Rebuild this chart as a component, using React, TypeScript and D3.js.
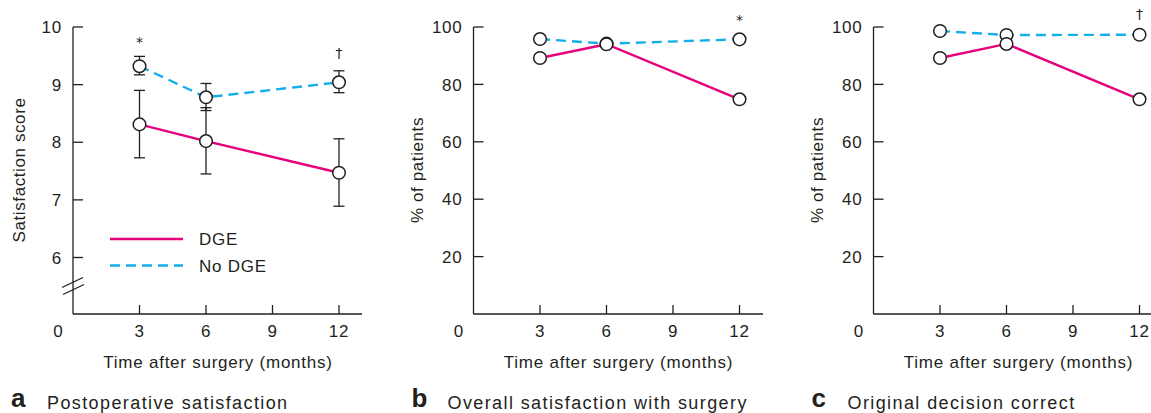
import React from "react";
import * as d3 from "d3";

const months = [3, 6, 12];
const xTicks = [3, 6, 9, 12];

// Panel a: satisfaction score (mean with error bars)
const aDGE = [8.31, 8.02, 7.47];
const aDGEUpper = [8.9, 8.6, 8.06];
const aDGELower = [7.73, 7.45, 6.89];
const aNoDGE = [9.32, 8.78, 9.04];
const aNoDGEUpper = [9.49, 9.02, 9.24];
const aNoDGELower = [9.17, 8.55, 8.86];
const aYTicks = [6, 7, 8, 9, 10];

// Panel b: overall satisfaction with surgery (% of patients)
const bDGE = [89.2, 94.0, 74.8];
const bNoDGE = [95.8, 94.2, 95.7];

// Panel c: original decision correct (% of patients)
const cDGE = [89.2, 94.1, 74.8];
const cNoDGE = [98.6, 97.2, 97.3];

const pctTicks = [20, 40, 60, 80, 100];

const PINK = "#e6007e";
const CYAN = "#14aee8";
const INK = "#231f20";
const FONT = "'Liberation Sans', Arial, Helvetica, sans-serif";
const AX_FS = 17;
const AX_LS = 0.75;
const DASH = "10 6";

type Panel = {
  axisX: number;
  axisEnd: number;
  letter: string;
  caption: string;
  yTitle: string;
  yTitleX: number;
  yDomain: [number, number];
  yRange: [number, number];
  yTicks: number[];
  dge: number[];
  noDge: number[];
  dgeErr?: [number[], number[]];
  noDgeErr?: [number[], number[]];
  marks: { label: string; month: number; y: number }[];
  brk?: boolean;
  legend?: boolean;
};

const AXIS_Y = 314;
const TOP_Y = 27;

const panels: Panel[] = [
  {
    axisX: 73,
    axisEnd: 362,
    letter: "a",
    caption: "Postoperative satisfaction",
    yTitle: "Satisfaction score",
    yTitleX: 19,
    yDomain: [6, 10],
    yRange: [257.5, TOP_Y],
    yTicks: aYTicks,
    dge: aDGE,
    noDge: aNoDGE,
    dgeErr: [aDGELower, aDGEUpper],
    noDgeErr: [aNoDGELower, aNoDGEUpper],
    marks: [
      { label: "*", month: 3, y: 47 },
      { label: "†", month: 12, y: 58 },
    ],
    brk: true,
    legend: true,
  },
  {
    axisX: 473.5,
    axisEnd: 763,
    letter: "b",
    caption: "Overall satisfaction with surgery",
    yTitle: "% of patients",
    yTitleX: 417,
    yDomain: [0, 100],
    yRange: [AXIS_Y, TOP_Y],
    yTicks: pctTicks,
    dge: bDGE,
    noDge: bNoDGE,
    marks: [{ label: "*", month: 12, y: 25 }],
  },
  {
    axisX: 873.5,
    axisEnd: 1151,
    letter: "c",
    caption: "Original decision correct",
    yTitle: "% of patients",
    yTitleX: 817,
    yDomain: [0, 100],
    yRange: [AXIS_Y, TOP_Y],
    yTicks: pctTicks,
    dge: cDGE,
    noDge: cNoDGE,
    marks: [{ label: "†", month: 12, y: 19 }],
  },
];

function PanelView({ p }: { p: Panel }) {
  const x = d3.scaleLinear().domain([0, 12]).range([p.axisX, p.axisX + 266]);
  const y = d3.scaleLinear().domain(p.yDomain).range(p.yRange);
  const line = d3
    .line<number>()
    .x((_, i) => x(months[i]))
    .y((d) => y(d));

  const errBars = (lo: number[], hi: number[], key: string) =>
    months.map((m, i) => (
      <g key={key + i} stroke={INK} strokeWidth={1.3}>
        <line x1={x(m)} x2={x(m)} y1={y(lo[i])} y2={y(hi[i])} />
        <line x1={x(m) - 5.5} x2={x(m) + 5.5} y1={y(lo[i])} y2={y(lo[i])} />
        <line x1={x(m) - 5.5} x2={x(m) + 5.5} y1={y(hi[i])} y2={y(hi[i])} />
      </g>
    ));

  const circles = (vals: number[], key: string) =>
    vals.map((v, i) => (
      <circle
        key={key + i}
        cx={x(months[i])}
        cy={y(v)}
        r={6.3}
        fill="#fff"
        stroke={INK}
        strokeWidth={1.5}
      />
    ));

  return (
    <g fontFamily={FONT} fill={INK}>
      {/* axes */}
      <line x1={p.axisX} x2={p.axisX} y1={TOP_Y} y2={AXIS_Y} stroke={INK} strokeWidth={1.3} />
      <line x1={p.axisX} x2={p.axisEnd} y1={AXIS_Y} y2={AXIS_Y} stroke={INK} strokeWidth={1.3} />
      {p.yTicks.map((t) => (
        <g key={"yt" + t}>
          <line x1={p.axisX} x2={p.axisX + 10} y1={y(t)} y2={y(t)} stroke={INK} strokeWidth={1.3} />
          <text
            x={p.axisX - 11}
            y={y(t)}
            dy="0.36em"
            textAnchor="end"
            fontSize={AX_FS}
            letterSpacing={AX_LS}
          >
            {t}
          </text>
        </g>
      ))}
      {xTicks.map((t) => (
        <g key={"xt" + t}>
          <line x1={x(t)} x2={x(t)} y1={AXIS_Y} y2={AXIS_Y - 9} stroke={INK} strokeWidth={1.3} />
          <text x={x(t)} y={336.5} textAnchor="middle" fontSize={AX_FS} letterSpacing={AX_LS}>
            {t}
          </text>
        </g>
      ))}
      <text x={p.axisX - 15} y={336.5} textAnchor="middle" fontSize={AX_FS}>
        0
      </text>
      {p.brk && (
        <g stroke={INK} strokeWidth={1.3}>
          <line x1={p.axisX - 11} x2={p.axisX + 10} y1={287.5} y2={277.5} />
          <line x1={p.axisX - 10} x2={p.axisX + 11} y1={294.5} y2={284.5} />
        </g>
      )}
      {/* titles */}
      <text
        transform={`translate(${p.yTitleX},170) rotate(-90)`}
        textAnchor="middle"
        dy="0.35em"
        fontSize={AX_FS}
        letterSpacing={0.6}
      >
        {p.yTitle}
      </text>
      <text
        x={p.axisX + 145}
        y={367.5}
        textAnchor="middle"
        fontSize={AX_FS}
        letterSpacing={AX_LS}
      >
        Time after surgery (months)
      </text>
      <text x={p.axisX - 62} y={407} fontSize={26} fontWeight="bold">
        {p.letter}
      </text>
      <text x={p.axisX - 26} y={408.5} fontSize={18} letterSpacing={1.4}>
        {p.caption}
      </text>
      {/* lines */}
      <path d={line(p.dge) || ""} fill="none" stroke={PINK} strokeWidth={2.4} />
      <path
        d={line(p.noDge) || ""}
        fill="none"
        stroke={CYAN}
        strokeWidth={2.4}
        strokeDasharray={DASH}
      />
      {p.dgeErr && errBars(p.dgeErr[0], p.dgeErr[1], "de")}
      {p.noDgeErr && errBars(p.noDgeErr[0], p.noDgeErr[1], "ne")}
      {circles(p.noDge, "nc")}
      {circles(p.dge, "dc")}
      {p.marks.map((m, i) => (
        <text
          key={"m" + i}
          x={x(m.month)}
          y={m.y}
          textAnchor="middle"
          fontSize={14}
          fontFamily="'DejaVu Sans', sans-serif"
          fill={INK}
        >
          {m.label}
        </text>
      ))}
      {p.legend && (
        <g>
          <line x1={110} x2={183} y1={239} y2={239} stroke={PINK} strokeWidth={2.4} />
          <line
            x1={110}
            x2={183}
            y1={265.5}
            y2={265.5}
            stroke={CYAN}
            strokeWidth={2.4}
            strokeDasharray={DASH}
          />
          <text x={199} y={239} dy="0.36em" fontSize={AX_FS} letterSpacing={AX_LS}>
            DGE
          </text>
          <text x={199} y={265.5} dy="0.36em" fontSize={AX_FS} letterSpacing={AX_LS}>
            No DGE
          </text>
        </g>
      )}
    </g>
  );
}

export default function App() {
  return (
    <svg
      width={1151}
      height={413}
      style={{ position: "absolute", left: 0, top: 0, background: "#fff" }}
    >
      <rect width={1151} height={413} fill="#fff" />
      {panels.map((p) => (
        <PanelView key={p.letter} p={p} />
      ))}
    </svg>
  );
}
